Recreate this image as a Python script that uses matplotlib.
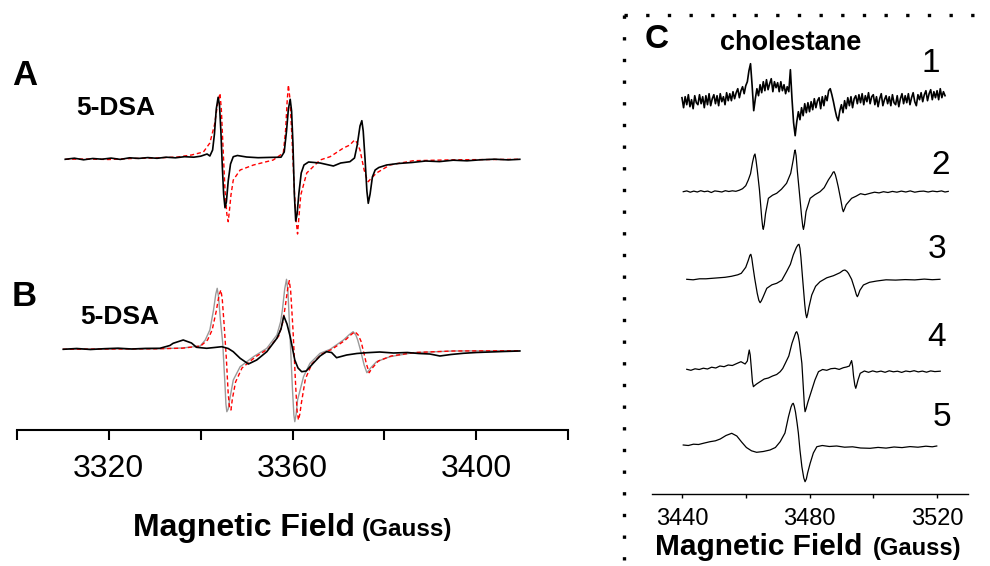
import numpy as np
import matplotlib
matplotlib.use("Agg")
import matplotlib.pyplot as plt
from matplotlib.lines import Line2D

plt.rcParams['font.family'] = ['Liberation Sans', 'DejaVu Sans']

# ---------------- panel A (5-DSA) ----------------
fa = [3310.5, 3312.5, 3314.5, 3316.5, 3318.5, 3320.5, 3322.5, 3324.5, 3326.5, 3328.5,
      3330.5, 3332.5, 3334.5, 3336.5, 3338.5, 3340.0, 3341.4, 3342.0, 3342.6, 3343.0,
      3343.4, 3343.8, 3344.1, 3344.4, 3344.7, 3345.0, 3345.3, 3345.6, 3346.0, 3346.5,
      3347.1, 3348.0, 3350.0, 3352.5, 3355.0, 3357.5, 3358.2, 3358.7, 3359.1, 3359.5,
      3359.8, 3360.1, 3360.4, 3360.7, 3361.0, 3361.4, 3361.9, 3362.5, 3363.5, 3366.0,
      3368.9, 3370.5, 3372.5, 3373.5, 3374.1, 3374.7, 3375.1, 3375.4, 3375.8, 3376.2,
      3376.5, 3376.9, 3377.4, 3378.0, 3378.8, 3380.5, 3383.0, 3386.0, 3389.0, 3392.0,
      3395.0, 3398.0, 3401.0, 3404.0, 3407.0, 3409.5]
ia_black = [-0.3, 0.8, -0.8, 0.5, -0.2, 0.9, -0.4, 1.2, 0.6, 1.4,
            0.7, 1.8, 1.2, 2.3, 1.8, 2.8, 5.0, 3.0, 9.0, 25.0,
            50.0, 61.7, 54.0, 28.0, -6.0, -35.0, -48.7, -43.0, -22.0, -5.0,
            2.3, 3.5, 2.0, 1.3, 1.6, 1.8, 7.0, 28.0, 50.0, 59.7,
            48.0, 15.0, -35.0, -62.0, -55.0, -34.0, -14.0, -6.0, -3.0, -4.0,
            -7.0, -4.0, -2.7, 1.0, 14.0, 33.0, 38.3, 28.0, 0.0, -32.0,
            -44.3, -35.0, -18.0, -11.0, -8.5, -6.0, -4.5, -3.5, -2.0, -2.6,
            -1.2, -1.8, -0.8, -0.2, -0.9, -0.3]

fa_red = [3310.5, 3315.0, 3320.0, 3325.0, 3330.0, 3335.0, 3338.0, 3340.6, 3342.0, 3343.0,
          3343.7, 3344.2, 3344.5, 3344.8, 3345.3, 3345.7, 3346.0, 3346.3, 3346.6, 3347.1,
          3348.6, 3351.5, 3355.8, 3358.0, 3358.5, 3358.8, 3359.1, 3359.4, 3359.8, 3360.4,
          3360.8, 3361.1, 3361.4, 3361.8, 3363.1, 3366.0, 3368.2, 3371.1, 3372.5, 3373.2,
          3373.6, 3374.1, 3374.7, 3375.6, 3376.2, 3376.5, 3377.0, 3378.3, 3381.2, 3386.3,
          3395.0, 3409.5]
ia_red = [-0.3, 0.0, -0.5, 0.5, 1.0, 2.0, 4.0, 7.0, 16.0, 34.0,
          55.0, 65.7, 50.0, 19.0, -31.0, -55.0, -62.7, -50.0, -36.0, -21.0,
          -11.0, -6.0, -1.0, 6.0, 29.0, 55.0, 74.0, 62.0, 29.0, -31.0,
          -62.0, -75.0, -58.0, -36.0, -14.0, -1.0, 2.3, 11.0, 14.0, 17.5,
          19.0, 16.0, 9.0, -11.0, -20.0, -22.7, -20.0, -14.0, -6.0, -1.7,
          -0.8, -0.3]

# ---------------- panel B (5-DSA) ----------------
fb_black = [3310.1, 3313.0, 3316.0, 3319.0, 3322.0, 3325.0, 3328.0, 3331.1, 3333.3, 3334.0,
            3336.2, 3338.0, 3339.1, 3341.3, 3343.0, 3344.6, 3346.0, 3347.1, 3348.6, 3350.4,
            3352.2, 3354.4, 3356.6, 3357.5, 3358.1, 3358.8, 3359.5, 3360.5, 3361.2, 3362.0,
            3363.0, 3364.5, 3366.0, 3367.4, 3368.5, 3369.6, 3371.8, 3374.0, 3376.2, 3379.0,
            3382.0, 3385.0, 3387.5, 3389.9, 3392.1, 3394.5, 3397.2, 3400.0, 3403.0, 3406.0,
            3409.5]
ib_black = [-0.3, 0.5, -0.5, 0.3, 0.8, 0.0, 0.6, 0.7, 3.5, 5.7,
            9.0, 6.0, 1.7, 0.7, 1.5, 2.3, 0.5, -2.7, -9.3, -15.0,
            -11.0, -2.7, 10.7, 20.0, 33.0, 25.0, 12.3, -11.0, -19.0, -22.7,
            -22.0, -14.3, -7.0, -2.7, -3.5, -8.7, -6.0, -4.5, -3.7, -3.0,
            -4.0, -3.5, -4.5, -5.0, -7.0, -5.5, -4.3, -3.5, -3.0, -2.5,
            -2.0]

fb_gray = [3310.0, 3320.0, 3330.0, 3336.0, 3339.9, 3341.0, 3342.0, 3342.8, 3343.3, 3343.6,
           3343.9, 3344.3, 3344.8, 3345.3, 3345.5, 3345.7, 3346.0, 3346.3, 3347.1, 3348.6,
           3351.5, 3354.4, 3356.6, 3357.4, 3357.8, 3358.3, 3358.7, 3359.0, 3359.4, 3360.0,
           3360.3, 3360.5, 3360.8, 3361.1, 3362.4, 3363.8, 3366.0, 3368.2, 3371.1, 3372.4,
           3373.2, 3373.8, 3374.2, 3374.8, 3375.6, 3376.2, 3376.7, 3377.0, 3378.3, 3381.2,
           3386.3, 3395.0, 3409.5]
ib_gray = [-0.3, 0.0, 0.2, 1.0, 3.0, 9.0, 19.0, 39.0, 55.0, 60.7,
           52.0, 29.0, 6.0, -36.0, -55.0, -62.7, -60.0, -51.0, -31.0, -17.7,
           -7.7, 0.7, 14.0, 27.0, 39.0, 60.0, 69.7, 58.0, 19.0, -41.0,
           -66.0, -72.7, -65.0, -51.0, -27.7, -14.3, -4.3, -0.3, 9.0, 14.5,
           17.3, 14.0, 9.0, -1.0, -16.0, -23.7, -21.0, -19.0, -12.7, -7.7,
           -3.7, -2.0, -1.7]

fb_red = [3310.0, 3320.0, 3330.0, 3336.0, 3340.0, 3341.5, 3342.5, 3343.4, 3344.0, 3344.4,
          3344.7, 3345.1, 3345.6, 3346.0, 3346.3, 3346.6, 3346.9, 3347.6, 3349.0, 3351.9,
          3354.8, 3357.0, 3357.9, 3358.5, 3359.0, 3359.3, 3359.6, 3360.1, 3360.7, 3361.0,
          3361.3, 3361.6, 3361.9, 3362.8, 3364.2, 3366.4, 3368.5, 3371.4, 3372.8, 3373.6,
          3374.3, 3374.9, 3375.5, 3376.1, 3376.7, 3377.2, 3378.7, 3381.5, 3386.6, 3395.0,
          3409.5]
ib_red = [-0.3, 0.0, 0.2, 0.8, 3.0, 9.0, 19.0, 38.0, 54.0, 59.0,
          50.0, 25.0, -10.0, -45.0, -59.0, -61.0, -50.0, -33.0, -19.0, -8.0,
          0.5, 13.0, 27.0, 45.0, 62.0, 68.3, 58.0, 20.0, -38.0, -62.0,
          -71.0, -65.0, -55.0, -30.0, -15.0, -5.0, -0.5, 8.5, 14.5, 17.3,
          14.0, 8.0, -3.0, -15.0, -23.7, -20.0, -12.0, -7.0, -3.5, -2.0,
          -1.7]

# ---------------- panel C (cholestane, spectra 1-5) ----------------
f1 = np.arange(3440.0, 3522.75, 0.5)
i1 = [4, -6, 5, -3, 7, -5, 2, -7, 6, -1,
      -3, 7, -2, 5, -6, 6, -3, 8, -4, 3,
      7, -2, 6, -4, 8, 0, 5, -3, 9, 1,
      8, 1, 10, 3, 9, 13, 4, 11, 15, 8,
      16, 20, 31, 38, 16, -9, 3, 13, 6, 17,
      9, 20, 11, 22, 12, 18, 23, 10, 20, 14,
      19, 10, 20, 11, 17, 8, 15, 10, 32, 3,
      -21, -34, -20, -10, -18, -6, -14, -2, -11, -1,
      -10, 0, -8, 3, -6, 1, 4, -7, 5, -4,
      6, 1, 11, 13, 7, 0, -8, -15, -19, -9,
      -3, -11, 1, -7, 4, -4, 5, -6, 3, 6,
      -2, 7, -1, 8, -3, 6, 0, 9, -2, 5,
      7, -3, 5, -5, 3, 8, -4, 2, 6, -2,
      5, -4, 7, -1, -3, 6, -5, 3, 8, -2,
      6, -1, 8, -3, 4, 9, 0, -4, 7, 2,
      9, 0, 7, 11, 1, 8, 12, 2, 10, 4,
      11, 2, 13, 4, 10, 6]

f2 = [3440.4, 3441.5, 3442.6, 3443.7, 3444.8, 3445.9, 3447.0, 3448.1, 3449.2, 3450.3,
      3451.4, 3452.5, 3453.6, 3454.7, 3455.8, 3456.9, 3458.0, 3459.0, 3460.0, 3460.8,
      3461.5, 3462.1, 3462.6, 3462.9, 3463.2, 3463.6, 3464.3, 3465.0, 3465.3, 3465.5,
      3465.8, 3466.2, 3467.1, 3468.4, 3469.7, 3471.2, 3472.8, 3474.1, 3474.9, 3475.3,
      3475.5, 3475.8, 3476.2, 3476.8, 3477.5, 3477.9, 3478.1, 3478.4, 3478.9, 3480.2,
      3481.7, 3483.3, 3484.6, 3485.9, 3486.9, 3487.4, 3487.7, 3488.1, 3488.5, 3489.0,
      3489.8, 3490.3, 3490.6, 3491.0, 3491.5, 3493.2, 3494.6, 3496.0, 3497.4, 3499.0,
      3500.4, 3501.8, 3503.2, 3504.6, 3506.0, 3507.4, 3508.8, 3510.2, 3511.6, 3513.0,
      3514.4, 3515.8, 3517.2, 3518.6, 3520.0, 3521.4, 3522.5, 3523.5]
i2 = [0.0, 0.8, -0.5, 0.6, -0.3, 1.0, 0.0, 0.6, -0.8, 0.8,
      0.3, -0.3, 1.0, 0.2, 0.9, 0.4, 1.5, 3.0, 6.0, 11.7,
      18.0, 29.0, 36.0, 37.7, 32.0, 22.0, 1.7, -26.0, -35.0, -37.6,
      -33.0, -22.0, -6.6, -3.5, -1.6, 2.5, 8.4, 18.4, 32.0, 40.0,
      41.7, 36.0, 20.0, 0.0, -24.0, -35.0, -37.6, -33.0, -20.0, -6.6,
      -3.0, 0.0, 4.0, 11.7, 16.5, 19.5, 20.0, 17.0, 12.0, 5.0,
      -8.0, -17.0, -20.0, -17.0, -13.0, -6.6, -4.5, -2.0, -3.0, -1.6,
      -0.5, -1.2, 0.0, -0.8, 0.3, -0.5, 0.6, -0.3, 0.8, -0.5,
      0.3, 0.6, -0.3, 0.6, 0.0, 0.8, -0.3, 0.3]

f3 = [3441.5, 3443.5, 3445.5, 3447.5, 3449.5, 3451.5, 3453.5, 3455.5, 3457.5, 3458.6,
      3460.0, 3460.8, 3461.3, 3461.6, 3461.9, 3462.2, 3462.8, 3463.6, 3464.1, 3464.5,
      3464.9, 3465.4, 3466.6, 3468.2, 3469.7, 3471.3, 3472.8, 3474.0, 3474.9, 3475.9,
      3476.4, 3476.7, 3477.0, 3477.3, 3477.8, 3478.5, 3478.8, 3479.1, 3479.4, 3479.8,
      3480.7, 3481.9, 3483.3, 3485.4, 3487.5, 3489.5, 3490.5, 3491.1, 3491.7, 3492.2,
      3493.2, 3494.2, 3494.7, 3495.0, 3495.3, 3495.8, 3496.9, 3498.8, 3501.1, 3504.0,
      3507.0, 3510.0, 3513.0, 3516.0, 3518.5, 3520.9]
i3 = [0.0, -0.5, 0.5, 0.5, 1.0, 1.5, 2.0, 3.0, 4.5, 6.0,
      12.0, 19.0, 24.0, 25.0, 21.0, 14.0, 1.0, -14.0, -21.0, -23.4,
      -21.5, -18.0, -9.0, -5.5, -4.0, -1.0, 7.6, 15.0, 24.3, 32.0,
      34.5, 35.0, 31.0, 22.0, 2.0, -25.0, -34.0, -38.4, -35.0, -28.0,
      -15.7, -7.0, -2.4, 1.5, 3.6, 6.5, 8.8, 9.3, 8.0, 6.0,
      0.0, -10.0, -15.5, -17.4, -15.5, -11.0, -5.7, -3.0, -1.7, -0.5,
      -0.8, -0.3, -0.6, 0.2, -0.4, 0.0]

f4 = [3441.5, 3442.8, 3444.1, 3445.4, 3446.7, 3448.0, 3449.3, 3450.6, 3451.9, 3453.2,
      3454.5, 3455.8, 3457.2, 3458.5, 3459.8, 3460.5, 3460.8, 3461.1, 3461.4, 3461.8,
      3462.1, 3462.4, 3462.8, 3463.4, 3464.5, 3465.8, 3467.1, 3468.4, 3469.7, 3470.8,
      3471.6, 3472.4, 3473.5, 3474.5, 3475.3, 3475.7, 3476.0, 3476.4, 3476.8, 3477.6,
      3478.1, 3478.4, 3478.6, 3478.9, 3479.5, 3480.7, 3481.7, 3482.8, 3484.1, 3485.4,
      3486.7, 3488.0, 3489.3, 3490.6, 3491.6, 3492.5, 3493.0, 3493.2, 3493.5, 3493.8,
      3494.2, 3494.5, 3494.8, 3495.2, 3495.9, 3497.2, 3498.5, 3499.8, 3501.1, 3502.4,
      3503.7, 3505.0, 3506.3, 3507.6, 3508.9, 3510.2, 3511.5, 3512.8, 3514.1, 3515.4,
      3516.7, 3518.0, 3519.3, 3521.0]
i4 = [0.7, -0.3, 1.2, 0.5, 1.8, 1.0, 2.8, 2.0, 4.0, 3.3,
      5.0, 4.5, 6.5, 8.3, 6.0, 9.0, 15.0, 20.0, 15.0, 0.0,
      -12.0, -16.7, -15.5, -14.0, -11.7, -9.0, -8.0, -6.0, -4.5, -1.7,
      1.5, 6.7, 14.0, 26.7, 34.0, 37.5, 38.3, 35.0, 28.0, 6.7,
      -20.0, -36.0, -41.7, -39.0, -32.0, -20.0, -10.0, -1.7, 0.5, -0.3,
      1.3, 1.7, 0.6, 2.3, 3.0, 4.0, 8.0, 9.3, 4.0, -6.0,
      -15.0, -18.3, -15.0, -10.0, -3.3, -1.0, -2.3, -0.9, -2.0, -1.1,
      -2.3, -0.8, -1.8, -1.2, -2.4, -1.0, -1.7, -0.7, -1.9, -1.1,
      -2.2, -0.9, -1.6, -1.2]

f5 = [3440.4, 3442.0, 3443.6, 3445.2, 3446.8, 3448.8, 3450.5, 3452.0, 3453.8, 3455.6,
      3457.2, 3458.7, 3460.2, 3461.8, 3463.4, 3465.5, 3467.6, 3469.3, 3470.8, 3472.3,
      3473.4, 3474.2, 3474.6, 3474.9, 3475.2, 3475.6, 3476.1, 3476.5, 3477.0, 3477.6,
      3478.2, 3478.6, 3479.0, 3479.4, 3480.2, 3481.2, 3482.3, 3484.0, 3486.2, 3488.5,
      3491.0, 3493.5, 3496.0, 3499.0, 3501.5, 3504.0, 3506.5, 3509.0, 3511.5, 3514.0,
      3516.5, 3518.5, 3519.9]
i5 = [0.0, -0.5, 0.8, 0.5, 1.8, 3.3, 4.2, 6.0, 9.5, 11.7,
      9.0, 3.0, -2.5, -5.8, -7.3, -6.5, -5.0, -2.5, 3.3, 12.0,
      28.3, 38.0, 41.0, 41.7, 39.0, 33.0, 22.0, 12.0, -5.0, -21.7,
      -33.0, -36.7, -34.0, -28.0, -18.3, -8.0, -1.7, -0.5, -1.5, -1.0,
      -2.2, -1.8, -3.0, -3.3, -2.4, -3.1, -2.0, -2.6, -1.6, -2.2,
      -1.2, -1.8, -1.0]

left_major = [3320, 3360, 3400]
left_minor = [3300, 3340, 3380, 3420]
right_major = [3440, 3480, 3520]
right_minor = [3460, 3500]
c_fields = [f1, f2, f3, f4, f5]
c_values = [i1, i2, i3, i4, i5]
c_names = ['1', '2', '3', '4', '5']

W, H = 990, 566


def fx(x):
    return x / W


def fy(y):
    return 1 - y / H


fig = plt.figure(figsize=(9.9, 5.66), dpi=100)

# left panel (A and B share one field axis)
axL = fig.add_axes([fx(17), fy(430), 551 / W, 415 / H])
axL.set_xlim(3300, 3420)
axL.set_ylim(0, 415)
offA, offB = 271, 81
axL.plot(fa_red, np.array(ia_red) + offA, color='red', lw=1.0, ls=(0, (3, 2)))
axL.plot(fa, np.array(ia_black) + offA, color='black', lw=1.2)
axL.plot(fb_gray, np.array(ib_gray) + offB, color='#9a9a9a', lw=1.0)
axL.plot(fb_red, np.array(ib_red) + offB, color='red', lw=1.0, ls=(0, (3, 2)))
axL.plot(fb_black, np.array(ib_black) + offB, color='black', lw=1.2)
for s in ['top', 'left', 'right']:
    axL.spines[s].set_visible(False)
axL.spines['bottom'].set_linewidth(1.5)
axL.set_yticks([])
axL.set_xticks(left_major)
axL.set_xticks(left_minor, minor=True)
axL.set_xticklabels([str(v) for v in left_major], fontsize=23)
axL.tick_params(axis='x', which='both', length=7.5, width=1.5, direction='out', pad=10)

# right panel
axR = fig.add_axes([fx(652), fy(494), 316 / W, 479 / H])
axR.set_xlim(3430.6, 3529.7)
axR.set_ylim(0, 479)
c_offsets = [392.3, 302.3, 214.7, 124.0, 49.0]
c_widths = [1.2, 0.9, 0.9, 0.9, 0.9]
for fld, val, off, lw in zip(c_fields, c_values, c_offsets, c_widths):
    axR.plot(fld, np.array(val) + off, color='black', lw=lw)
for s in ['top', 'left', 'right']:
    axR.spines[s].set_visible(False)
axR.spines['bottom'].set_linewidth(1.0)
axR.set_yticks([])
axR.set_xticks(right_major)
axR.set_xticks(right_minor, minor=True)
axR.set_xticklabels([str(v) for v in right_major], fontsize=17)
axR.tick_params(axis='x', which='both', length=3.2, width=1.0, direction='out', pad=7)

# panel letters and labels
fig.text(fx(12), fy(75), 'A', fontsize=25, fontweight='bold', va='center', ha='left')
fig.text(fx(76), fy(108), '5-DSA', fontsize=19, fontweight='bold', va='center', ha='left')
fig.text(fx(12), fy(296), 'B', fontsize=25, fontweight='bold', va='center', ha='left')
fig.text(fx(80), fy(317), '5-DSA', fontsize=19, fontweight='bold', va='center', ha='left')
fig.text(fx(645), fy(39), 'C', fontsize=24, fontweight='bold', va='center', ha='left')
fig.text(fx(720), fy(50), 'cholestane', fontsize=19.5, fontweight='bold', va='baseline', ha='left')

num_pos = [(931, 64), (941, 165), (937, 249), (937, 338), (942, 418)]
for name, (x, y) in zip(c_names, num_pos):
    fig.text(fx(x), fy(y), name, fontsize=24, va='center', ha='center')

# x labels
fig.text(fx(133), fy(536), 'Magnetic Field', fontsize=23,
         fontweight='bold', va='baseline', ha='left')
fig.text(fx(362), fy(536), '(Gauss)', fontsize=17.5,
         fontweight='bold', va='baseline', ha='left')
fig.text(fx(655), fy(555), 'Magnetic Field', fontsize=21.5, fontweight='bold',
         va='baseline', ha='left')
fig.text(fx(873), fy(555), '(Gauss)', fontsize=17, fontweight='bold',
         va='baseline', ha='left')

# dotted frame around panel C
dot = dict(color='black', lw=2.4, ls=(0, (1, 5.5)), transform=fig.transFigure)
fig.add_artist(Line2D([fx(624), fx(624)], [fy(15), fy(566)], **dot))
fig.add_artist(Line2D([fx(624), fx(990)], [fy(15), fy(15)], **dot))

fig.savefig('out.png', dpi=100)
